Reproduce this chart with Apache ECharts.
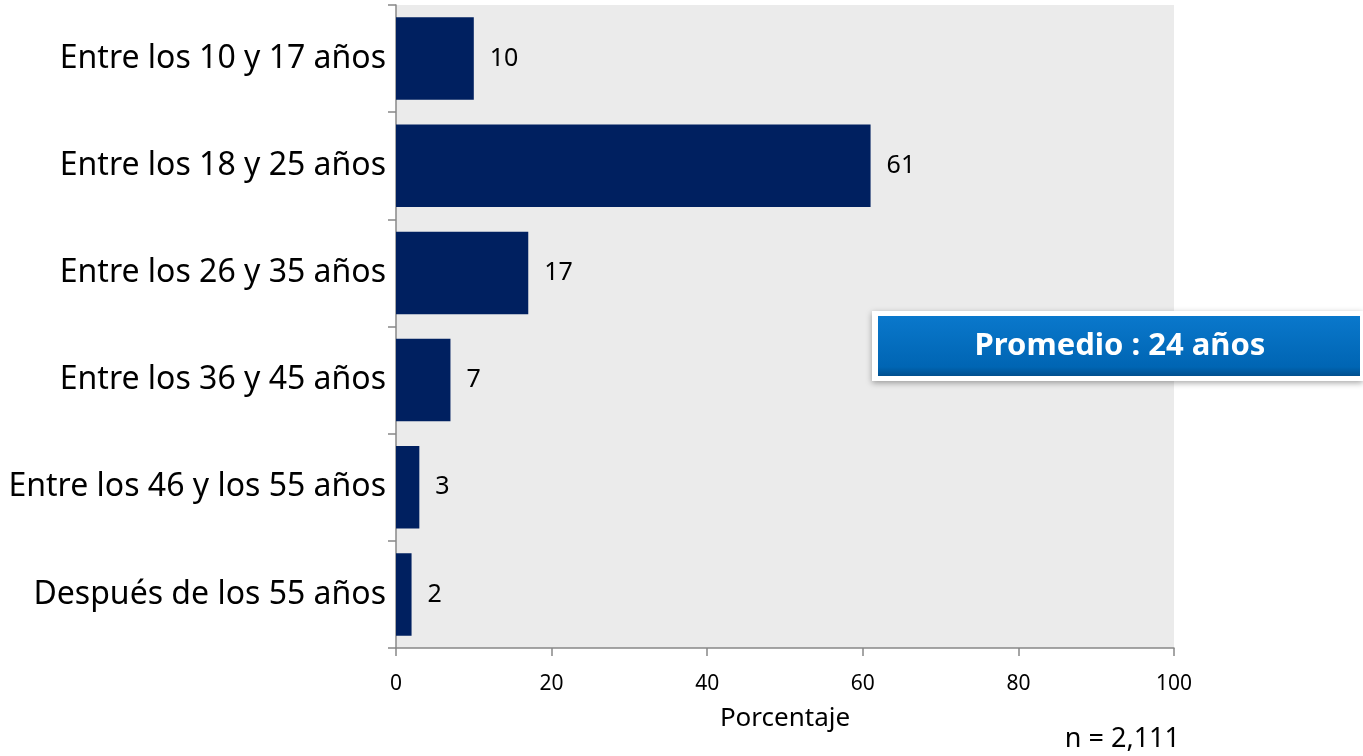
<!DOCTYPE html>
<html><head><meta charset="utf-8">
<script src="https://cdn.jsdelivr.net/npm/echarts@6/dist/echarts.min.js"></script>
<style>html,body{margin:0;padding:0;background:#fff}#c{width:1363px;height:756px}</style>
</head><body><div id="c"></div>
<script>
const categories = ["Entre los 10 y 17 años","Entre los 18 y 25 años","Entre los 26 y 35 años","Entre los 36 y 45 años","Entre los 46 y los 55 años","Después de los 55 años"];
const values = [10, 61, 17, 7, 3, 2];
const xTicks = [0, 20, 40, 60, 80, 100];
const axisTitle = "Porcentaje";
const sampleNote = "n = 2,111";
const avgNote = "Promedio : 24 años";

const chart = echarts.init(document.getElementById('c'));
const FONT = "Noto Sans";
chart.setOption({
  animation: false,
  grid: {left: 396, right: 189, top: 5, bottom: 108, show: true, backgroundColor: '#ebebeb', borderWidth: 0},
  xAxis: {
    type: 'value', min: xTicks[0], max: xTicks[xTicks.length-1], interval: 20,
    name: axisTitle, nameLocation: 'middle', nameGap: 58,
    nameTextStyle: {fontFamily: FONT, fontSize: 26, color: '#000'},
    axisLine: {show: true, lineStyle: {color: '#888', width: 1.5}},
    axisTick: {show: true, length: 8, lineStyle: {color: '#888', width: 1.5}},
    axisLabel: {fontFamily: FONT, fontSize: 21, color: '#000', margin: 26},
    splitLine: {show: false}
  },
  yAxis: {
    type: 'category', data: categories, inverse: true,
    axisLine: {show: true, lineStyle: {color: '#888', width: 1.5}},
    axisTick: {show: true, length: 8, lineStyle: {color: '#888', width: 1.5}},
    axisLabel: {fontFamily: FONT, fontSize: 32, color: '#000', margin: 10}
  },
  series: [{
    type: 'bar', data: values, barCategoryGap: '23%',
    itemStyle: {color: '#002060'},
    label: {show: true, position: 'right', distance: 16, fontFamily: FONT, fontSize: 25, color: '#000'}
  }],
  graphic: [
    {type: 'rect', shape: {x: 872, y: 311, width: 491, height: 70}, style: {fill: '#fff', shadowBlur: 6, shadowColor: 'rgba(0,0,0,0.35)', shadowOffsetY: 2}},
    {type: 'rect', shape: {x: 878, y: 316, width: 482, height: 60},
     style: {fill: new echarts.graphic.LinearGradient(0,0,0,1,[{offset:0,color:'#0a78cc'},{offset:0.85,color:'#0065b3'},{offset:1,color:'#004f8e'}])}},
    {type: 'text', x: 1120, y: 346, style: {text: avgNote, fontFamily: FONT, fontSize: 31, fontWeight: 'bold', fill: '#fff', align: 'center', verticalAlign: 'middle'}},
    {type: 'text', x: 1180, y: 739, style: {text: sampleNote, fontFamily: FONT, fontSize: 27, fill: '#000', align: 'right', verticalAlign: 'middle'}}
  ]
});
</script></body></html>
